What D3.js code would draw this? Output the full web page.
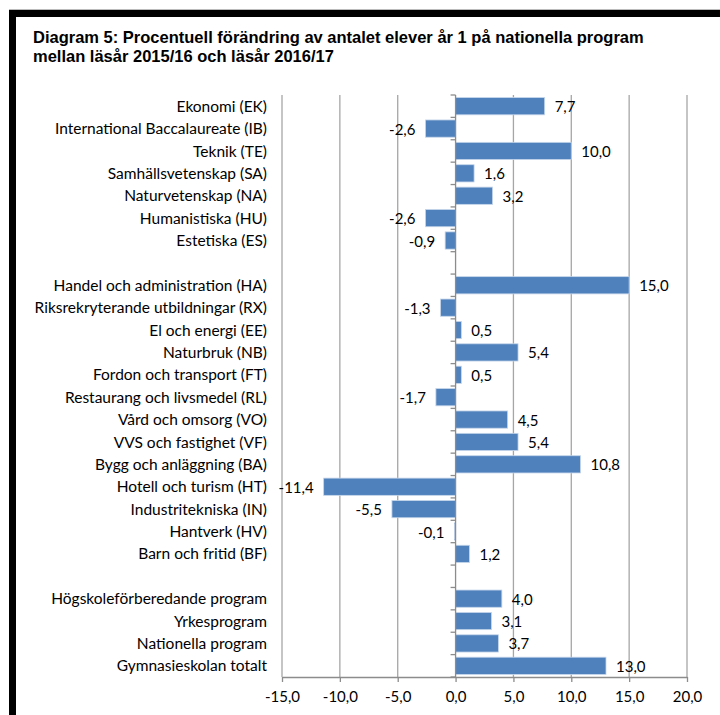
<!DOCTYPE html>
<html>
<head>
<meta charset="utf-8">
<script src="https://cdn.jsdelivr.net/npm/d3@7"></script>
<style>
  html, body { margin: 0; padding: 0; background: #fff; }
  svg { display: block; }
</style>
</head>
<body>
<script>
// Programme categories, top to bottom; empty strings are spacer rows between groups
const categories = [
  "Ekonomi (EK)",
  "International Baccalaureate (IB)",
  "Teknik (TE)",
  "Samhällsvetenskap (SA)",
  "Naturvetenskap (NA)",
  "Humanistiska (HU)",
  "Estetiska (ES)",
  "",
  "Handel och administration (HA)",
  "Riksrekryterande utbildningar (RX)",
  "El och energi (EE)",
  "Naturbruk (NB)",
  "Fordon och transport (FT)",
  "Restaurang och livsmedel (RL)",
  "Vård och omsorg (VO)",
  "VVS och fastighet (VF)",
  "Bygg och anläggning (BA)",
  "Hotell och turism (HT)",
  "Industritekniska (IN)",
  "Hantverk (HV)",
  "Barn och fritid (BF)",
  "",
  "Högskoleförberedande program",
  "Yrkesprogram",
  "Nationella program",
  "Gymnasieskolan totalt"
];

// Percentage change per category (null for spacer rows)
const changes = [
  7.7, -2.6, 10.0, 1.6, 3.2, -2.6, -0.9,
  null,
  15.0, -1.3, 0.5, 5.4, 0.5, -1.7, 4.5, 5.4, 10.8, -11.4, -5.5, -0.1, 1.2,
  null,
  4.0, 3.1, 3.7, 13.0
];

// Value axis ticks
const xTicks = [-15, -10, -5, 0, 5, 10, 15, 20];

const titleLines = [
  "Diagram 5: Procentuell förändring av antalet elever år 1 på nationella program",
  "mellan läsår 2015/16 och läsår 2016/17"
];

const W = 720, H = 715;
const plot = { left: 282, right: 687, top: 95, bottom: 677 };
const labelFont = "Lato, 'Open Sans', sans-serif";
const labelSize = 15;

const sv = d3.formatLocale({
  decimal: ",", thousands: " ", grouping: [3],
  currency: ["", " kr"], minus: "-"
});
const fmt = sv.format(".1f");

const svg = d3.select("body").append("svg")
  .attr("width", W).attr("height", H);

// Frame
svg.append("rect").attr("x", 9).attr("y", 9).attr("width", W - 9).attr("height", 1)
  .attr("fill", "#bbb");
svg.append("rect").attr("x", 9).attr("y", 10).attr("width", W - 9).attr("height", 7)
  .attr("fill", "#000");
svg.append("rect").attr("x", 9).attr("y", 10).attr("width", 7).attr("height", H - 10)
  .attr("fill", "#000");

// Title
svg.append("g").selectAll("text").data(titleLines).join("text")
  .attr("x", 33)
  .attr("y", (d, i) => 43 + i * 19)
  .attr("font-family", "'Liberation Sans', Arial, sans-serif")
  .attr("font-weight", "bold")
  .attr("font-size", 16.5)
  .attr("fill", "#000")
  .text(d => d);

const x = d3.scaleLinear().domain([-15, 20]).range([plot.left, plot.right]);
const y = d3.scaleBand()
  .domain(d3.range(categories.length))
  .range([plot.top, plot.bottom])
  .paddingInner(0.23)
  .paddingOuter(0.115);

const band = y.step();
const rowCenter = i => plot.top + (i + 0.5) * band;

// Vertical gridlines
svg.append("g").selectAll("line").data(xTicks.filter(t => t !== 0)).join("line")
  .attr("x1", d => x(d)).attr("x2", d => x(d))
  .attr("y1", plot.top).attr("y2", plot.bottom)
  .attr("stroke", "#a6a6a6").attr("stroke-width", 1.3);

// Bottom value axis
const xAxis = svg.append("g")
  .attr("transform", `translate(0,${plot.bottom})`)
  .call(d3.axisBottom(x).tickValues(xTicks).tickFormat(fmt).tickSizeInner(5).tickSizeOuter(0).tickPadding(9));
xAxis.select(".domain").attr("stroke", "#8c8c8c").attr("stroke-width", 1.3);
xAxis.selectAll(".tick line").attr("stroke", "#8c8c8c").attr("stroke-width", 1.3);
xAxis.selectAll(".tick text")
  .attr("font-family", labelFont)
  .attr("font-size", labelSize)
  .attr("fill", "#000");

// Bars
const data = categories.map((c, i) => ({ i, c, v: changes[i] })).filter(d => d.v !== null);

svg.append("g").selectAll("rect").data(data).join("rect")
  .attr("x", d => x(Math.min(0, d.v)))
  .attr("width", d => Math.abs(x(d.v) - x(0)))
  .attr("y", d => y(d.i))
  .attr("height", y.bandwidth())
  .attr("fill", "#4f81bd")
  .attr("stroke", "#c6d6ea")
  .attr("stroke-width", 0.8);

// Category axis along zero, ticks between rows
const cat = svg.append("g");
cat.append("line")
  .attr("x1", x(0)).attr("x2", x(0))
  .attr("y1", plot.top).attr("y2", plot.bottom)
  .attr("stroke", "#8c8c8c").attr("stroke-width", 1.3);
cat.selectAll("line.tk").data(d3.range(categories.length + 1)).join("line")
  .attr("class", "tk")
  .attr("x1", x(0) - 5).attr("x2", x(0))
  .attr("y1", d => plot.top + d * band).attr("y2", d => plot.top + d * band)
  .attr("stroke", "#8c8c8c").attr("stroke-width", 1.3);

// Category labels
svg.append("g").selectAll("text").data(categories.map((c, i) => ({ c, i })).filter(d => d.c)).join("text")
  .attr("x", 267)
  .attr("y", d => rowCenter(d.i))
  .attr("dy", "0.36em")
  .attr("text-anchor", "end")
  .attr("font-family", labelFont)
  .attr("font-size", 15.5)
  .attr("fill", "#000")
  .text(d => d.c);

// Value labels
svg.append("g").selectAll("text").data(data).join("text")
  .attr("x", d => d.v >= 0 ? x(d.v) + 10 : x(d.v) - 10)
  .attr("y", d => rowCenter(d.i))
  .attr("dy", "0.4em")
  .attr("text-anchor", d => d.v >= 0 ? "start" : "end")
  .attr("font-family", labelFont)
  .attr("font-size", labelSize)
  .attr("fill", "#000")
  .text(d => fmt(d.v));
</script>
</body>
</html>
